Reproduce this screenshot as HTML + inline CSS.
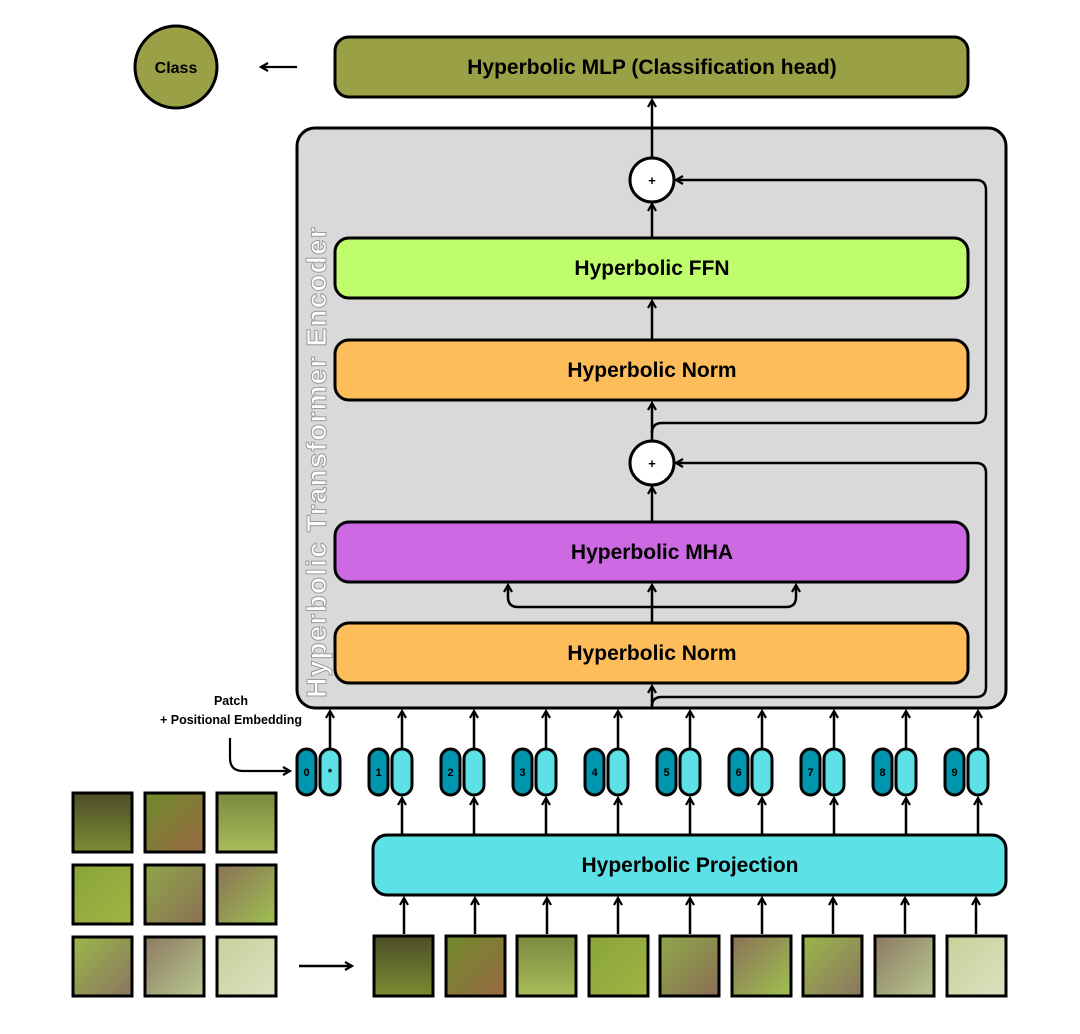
<!DOCTYPE html>
<html><head><style>
body{margin:0;width:1080px;height:1029px;background:#fff;overflow:hidden;font-family:"Liberation Sans",sans-serif;}
</style></head><body>
<svg width="1080" height="1029" viewBox="0 0 1080 1029" xmlns="http://www.w3.org/2000/svg" font-family="Liberation Sans, sans-serif">
<defs>
<marker id="a" markerWidth="10" markerHeight="10" refX="8" refY="5" orient="auto" markerUnits="userSpaceOnUse"><path d="M1,1 L8,5 L1,9" fill="none" stroke="#000" stroke-width="2.2"/></marker>
<linearGradient id="g1" x1="0" y1="0" x2="0" y2="1"><stop offset="0" stop-color="#4d4d28"/><stop offset="1" stop-color="#7a8c32"/></linearGradient>
<linearGradient id="g2" x1="0" y1="0" x2="1" y2="1"><stop offset="0" stop-color="#6e8a2a"/><stop offset="1" stop-color="#9a6a45"/></linearGradient>
<linearGradient id="g3" x1="0" y1="0" x2="0" y2="1"><stop offset="0" stop-color="#7a8a40"/><stop offset="1" stop-color="#a8bd58"/></linearGradient>
<linearGradient id="g4" x1="0" y1="0" x2="1" y2="1"><stop offset="0" stop-color="#8aa43a"/><stop offset="1" stop-color="#9fb544"/></linearGradient>
<linearGradient id="g5" x1="0" y1="0" x2="1" y2="1"><stop offset="0" stop-color="#8fa848"/><stop offset="1" stop-color="#8a6e55"/></linearGradient>
<linearGradient id="g6" x1="0" y1="0" x2="1" y2="1"><stop offset="0" stop-color="#8a7258"/><stop offset="1" stop-color="#9fc050"/></linearGradient>
<linearGradient id="g7" x1="0" y1="0" x2="1" y2="1"><stop offset="0" stop-color="#9ab848"/><stop offset="1" stop-color="#8a7560"/></linearGradient>
<linearGradient id="g8" x1="0" y1="0" x2="1" y2="1"><stop offset="0" stop-color="#8c7a62"/><stop offset="1" stop-color="#b8c890"/></linearGradient>
<linearGradient id="g9" x1="0" y1="0" x2="1" y2="1"><stop offset="0" stop-color="#c8d09a"/><stop offset="1" stop-color="#dde0c0"/></linearGradient>
</defs>

<circle cx="176" cy="67" r="41" fill="#9aa046" stroke="#000" stroke-width="3"/>
<text x="176" y="73" text-anchor="middle" font-size="16" font-weight="bold">Class</text>
<line x1="297" y1="67" x2="261" y2="67" stroke="#000" stroke-width="2.2" marker-end="url(#a)"/>

<rect x="335" y="37" width="633" height="60" rx="14" fill="#9aa046" stroke="#000" stroke-width="3"/>
<text x="652" y="74" text-anchor="middle" font-size="21" font-weight="bold">Hyperbolic MLP (Classification head)</text>

<rect x="297" y="128" width="709" height="580" rx="18" fill="#d9d9d9" stroke="#000" stroke-width="3"/>
<text transform="translate(326,462) rotate(-90)" text-anchor="middle" font-size="28" font-weight="bold" fill="#fff" stroke="#9a9a9a" stroke-width="1" letter-spacing="1.2">Hyperbolic Transformer Encoder</text>

<line x1="652" y1="158" x2="652" y2="100" stroke="#000" stroke-width="2.5" marker-end="url(#a)"/>
<circle cx="652" cy="180" r="22" fill="#fff" stroke="#000" stroke-width="3"/>
<text x="652" y="185" text-anchor="middle" font-size="13" font-weight="bold">+</text>
<line x1="652" y1="238" x2="652" y2="204" stroke="#000" stroke-width="2.5" marker-end="url(#a)"/>

<rect x="335" y="238" width="633" height="60" rx="14" fill="#c0fd6c" stroke="#000" stroke-width="3"/>
<text x="652" y="275" text-anchor="middle" font-size="21" font-weight="bold">Hyperbolic FFN</text>
<line x1="652" y1="340" x2="652" y2="301" stroke="#000" stroke-width="2.5" marker-end="url(#a)"/>

<rect x="335" y="340" width="633" height="60" rx="14" fill="#fdbd5a" stroke="#000" stroke-width="3"/>
<text x="652" y="377" text-anchor="middle" font-size="21" font-weight="bold">Hyperbolic Norm</text>
<line x1="652" y1="441" x2="652" y2="403" stroke="#000" stroke-width="2.5" marker-end="url(#a)"/>
<path d="M652,430 V433 Q652,423 662,423 H976 Q986,423 986,413 V190 Q986,180 976,180 H676" fill="none" stroke="#000" stroke-width="2.5" marker-end="url(#a)"/>

<circle cx="652" cy="463" r="22" fill="#fff" stroke="#000" stroke-width="3"/>
<text x="652" y="468" text-anchor="middle" font-size="13" font-weight="bold">+</text>
<line x1="652" y1="522" x2="652" y2="487" stroke="#000" stroke-width="2.5" marker-end="url(#a)"/>

<rect x="335" y="522" width="633" height="60" rx="14" fill="#cd6ae3" stroke="#000" stroke-width="3"/>
<text x="652" y="559" text-anchor="middle" font-size="21" font-weight="bold">Hyperbolic MHA</text>
<line x1="652" y1="623" x2="652" y2="585" stroke="#000" stroke-width="2.5" marker-end="url(#a)"/>
<path d="M652,607 H518 Q508,607 508,597 V585" fill="none" stroke="#000" stroke-width="2.5" marker-end="url(#a)"/>
<path d="M652,607 H786 Q796,607 796,597 V585" fill="none" stroke="#000" stroke-width="2.5" marker-end="url(#a)"/>

<rect x="335" y="623" width="633" height="60" rx="14" fill="#fdbd5a" stroke="#000" stroke-width="3"/>
<text x="652" y="660" text-anchor="middle" font-size="21" font-weight="bold">Hyperbolic Norm</text>
<line x1="652" y1="708" x2="652" y2="686" stroke="#000" stroke-width="2.5" marker-end="url(#a)"/>
<path d="M652,706 Q652,697 662,697 H976 Q986,697 986,687 V473 Q986,463 976,463 H676" fill="none" stroke="#000" stroke-width="2.5" marker-end="url(#a)"/>

<text x="231" y="705" text-anchor="middle" font-size="12.5" font-weight="bold">Patch</text>
<text x="231" y="724" text-anchor="middle" font-size="12.5" font-weight="bold">+ Positional Embedding</text>
<path d="M230,738 V758 Q230,771 243,771 H290" fill="none" stroke="#000" stroke-width="2.2" marker-end="url(#a)"/>

<g stroke="#000" stroke-width="3">
<rect x="297" y="749" width="19" height="46" rx="9.5" fill="#0096b0"/>
<rect x="320" y="749" width="20" height="46" rx="10" fill="#5ce1e6"/>
<rect x="369" y="749" width="19" height="46" rx="9.5" fill="#0096b0"/>
<rect x="392" y="749" width="20" height="46" rx="10" fill="#5ce1e6"/>
<rect x="441" y="749" width="19" height="46" rx="9.5" fill="#0096b0"/>
<rect x="464" y="749" width="20" height="46" rx="10" fill="#5ce1e6"/>
<rect x="513" y="749" width="19" height="46" rx="9.5" fill="#0096b0"/>
<rect x="536" y="749" width="20" height="46" rx="10" fill="#5ce1e6"/>
<rect x="585" y="749" width="19" height="46" rx="9.5" fill="#0096b0"/>
<rect x="608" y="749" width="20" height="46" rx="10" fill="#5ce1e6"/>
<rect x="657" y="749" width="19" height="46" rx="9.5" fill="#0096b0"/>
<rect x="680" y="749" width="20" height="46" rx="10" fill="#5ce1e6"/>
<rect x="729" y="749" width="19" height="46" rx="9.5" fill="#0096b0"/>
<rect x="752" y="749" width="20" height="46" rx="10" fill="#5ce1e6"/>
<rect x="801" y="749" width="19" height="46" rx="9.5" fill="#0096b0"/>
<rect x="824" y="749" width="20" height="46" rx="10" fill="#5ce1e6"/>
<rect x="873" y="749" width="19" height="46" rx="9.5" fill="#0096b0"/>
<rect x="896" y="749" width="20" height="46" rx="10" fill="#5ce1e6"/>
<rect x="945" y="749" width="19" height="46" rx="9.5" fill="#0096b0"/>
<rect x="968" y="749" width="20" height="46" rx="10" fill="#5ce1e6"/>
</g>
<g font-size="11" font-weight="bold" text-anchor="middle">
<text x="306.5" y="776">0</text><text x="330" y="776">*</text>
<text x="378.5" y="776">1</text><text x="450.5" y="776">2</text><text x="522.5" y="776">3</text>
<text x="594.5" y="776">4</text><text x="666.5" y="776">5</text><text x="738.5" y="776">6</text>
<text x="810.5" y="776">7</text><text x="882.5" y="776">8</text><text x="954.5" y="776">9</text>
</g>
<g stroke="#000" stroke-width="2.5" marker-end="url(#a)">
<line x1="330" y1="748" x2="330" y2="711"/><line x1="402" y1="748" x2="402" y2="711"/>
<line x1="474" y1="748" x2="474" y2="711"/><line x1="546" y1="748" x2="546" y2="711"/>
<line x1="618" y1="748" x2="618" y2="711"/><line x1="690" y1="748" x2="690" y2="711"/>
<line x1="762" y1="748" x2="762" y2="711"/><line x1="834" y1="748" x2="834" y2="711"/>
<line x1="906" y1="748" x2="906" y2="711"/><line x1="978" y1="748" x2="978" y2="711"/>

<line x1="402" y1="835" x2="402" y2="798"/><line x1="474" y1="835" x2="474" y2="798"/>
<line x1="546" y1="835" x2="546" y2="798"/><line x1="618" y1="835" x2="618" y2="798"/>
<line x1="690" y1="835" x2="690" y2="798"/><line x1="762" y1="835" x2="762" y2="798"/>
<line x1="834" y1="835" x2="834" y2="798"/><line x1="906" y1="835" x2="906" y2="798"/>
<line x1="978" y1="835" x2="978" y2="798"/>

<line x1="404" y1="934" x2="404" y2="898"/><line x1="475" y1="934" x2="475" y2="898"/>
<line x1="547" y1="934" x2="547" y2="898"/><line x1="618" y1="934" x2="618" y2="898"/>
<line x1="690" y1="934" x2="690" y2="898"/><line x1="762" y1="934" x2="762" y2="898"/>
<line x1="833" y1="934" x2="833" y2="898"/><line x1="905" y1="934" x2="905" y2="898"/>
<line x1="976" y1="934" x2="976" y2="898"/>

<line x1="299" y1="966" x2="352" y2="966"/>
</g>

<rect x="373" y="835" width="633" height="60" rx="14" fill="#5ce1e6" stroke="#000" stroke-width="3"/>
<text x="690" y="872" text-anchor="middle" font-size="21" font-weight="bold">Hyperbolic Projection</text>

<g stroke="#000" stroke-width="3">
<rect x="73" y="793" width="59" height="59" fill="url(#g1)"/>
<rect x="145" y="793" width="59" height="59" fill="url(#g2)"/>
<rect x="217" y="793" width="59" height="59" fill="url(#g3)"/>
<rect x="73" y="865" width="59" height="59" fill="url(#g4)"/>
<rect x="145" y="865" width="59" height="59" fill="url(#g5)"/>
<rect x="217" y="865" width="59" height="59" fill="url(#g6)"/>
<rect x="73" y="937" width="59" height="59" fill="url(#g7)"/>
<rect x="145" y="937" width="59" height="59" fill="url(#g8)"/>
<rect x="217" y="937" width="59" height="59" fill="url(#g9)"/>

<rect x="374" y="936" width="59" height="60" fill="url(#g1)"/>
<rect x="446" y="936" width="59" height="60" fill="url(#g2)"/>
<rect x="517" y="936" width="59" height="60" fill="url(#g3)"/>
<rect x="589" y="936" width="59" height="60" fill="url(#g4)"/>
<rect x="660" y="936" width="59" height="60" fill="url(#g5)"/>
<rect x="732" y="936" width="59" height="60" fill="url(#g6)"/>
<rect x="803" y="936" width="59" height="60" fill="url(#g7)"/>
<rect x="875" y="936" width="59" height="60" fill="url(#g8)"/>
<rect x="947" y="936" width="59" height="60" fill="url(#g9)"/>
</g>
</svg>
</body></html>
